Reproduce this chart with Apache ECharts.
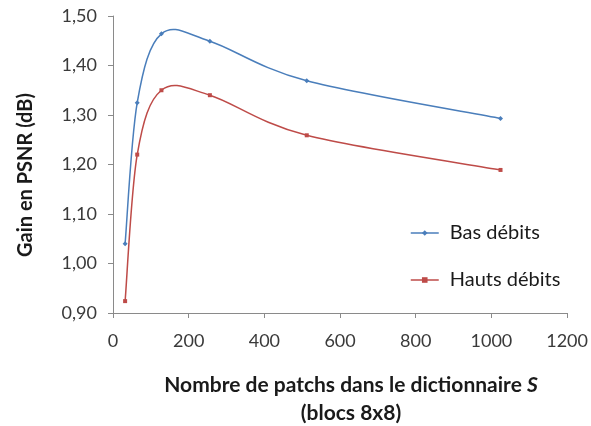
<!DOCTYPE html>
<html>
<head>
<meta charset="utf-8">
<script src="https://cdn.jsdelivr.net/npm/echarts@6/dist/echarts.min.js"></script>
<style>
  html, body { margin: 0; padding: 0; background: #fff; }
  #chart { width: 591px; height: 426px; }
</style>
</head>
<body>
<div id="chart"></div>
<script>
// Dictionary sizes (number of 8x8 patches)
var patchCounts = [32, 64, 128, 256, 512, 1024];
// PSNR gain (dB) at low and high bit rates
var basDebits = [1.04, 1.325, 1.464, 1.449, 1.369, 1.293];
var hautsDebits = [0.924, 1.22, 1.35, 1.34, 1.259, 1.189];
var seriesNames = ['Bas débits', 'Hauts débits'];
var seriesColors = ['#4a7ebb', '#be4b48'];

var FONT = 'Lato, "Open Sans", sans-serif';
var TEXT = '#3a3a3a';
var DARK = '#1a1a1a';
var AXIS = '#8a8a8a';

function pairs(xs, ys) {
  return xs.map(function (x, i) { return [x, ys[i]]; });
}

// Catmull-Rom style smoothed curve: each data item draws the bezier
// segment to the next point, using its neighbours for the tangents.
function curveSeries(ys, color) {
  return {
    type: 'custom',
    silent: true,
    z: 1,
    data: pairs(patchCounts, ys),
    renderItem: function (params, api) {
      var i = params.dataIndex;
      var n = patchCounts.length;
      if (i >= n - 1) return null;
      var p = function (k) {
        k = Math.max(0, Math.min(n - 1, k));
        return api.coord([patchCounts[k], ys[k]]);
      };
      var p0 = p(i - 1), p1 = p(i), p2 = p(i + 1), p3 = p(i + 2);
      return {
        type: 'bezierCurve',
        shape: {
          x1: p1[0], y1: p1[1],
          x2: p2[0], y2: p2[1],
          cpx1: p1[0] + (p2[0] - p0[0]) / 6,
          cpy1: p1[1] + (p2[1] - p0[1]) / 6,
          cpx2: p2[0] - (p3[0] - p1[0]) / 6,
          cpy2: p2[1] - (p3[1] - p1[1]) / 6
        },
        style: { stroke: color, lineWidth: 1.5, fill: null }
      };
    }
  };
}

function markerSeries(idx, ys, symbol, size) {
  return {
    name: seriesNames[idx],
    type: 'line',
    z: 2,
    data: pairs(patchCounts, ys),
    symbol: symbol,
    symbolSize: size,
    lineStyle: { color: seriesColors[idx], width: 1.5, opacity: 0 },
    itemStyle: { color: seriesColors[idx] }
  };
}

var chart = echarts.init(document.getElementById('chart'), null, { renderer: 'canvas' });
chart.setOption({
  backgroundColor: '#ffffff',
  animation: false,
  textStyle: { fontFamily: FONT },
  grid: { left: 113, right: 20, top: 16, bottom: 113 },
  xAxis: {
    type: 'value',
    min: 0, max: 1200, interval: 200,
    axisLine: { lineStyle: { color: AXIS, width: 1 } },
    axisTick: { show: true, length: 5, lineStyle: { color: AXIS } },
    axisLabel: {
      color: TEXT, fontSize: 18, margin: 19, fontFamily: FONT,
      formatter: function (v) { return String(v); }
    },
    splitLine: { show: false }
  },
  yAxis: {
    type: 'value',
    min: 0.9, max: 1.5, interval: 0.1,
    axisLine: { show: true, lineStyle: { color: AXIS, width: 1 } },
    axisTick: { show: true, length: 5, lineStyle: { color: AXIS } },
    axisLabel: {
      color: TEXT, fontSize: 18, margin: 16, fontFamily: FONT,
      formatter: function (v) { return v.toFixed(2).replace('.', ','); }
    },
    splitLine: { show: false }
  },
  legend: {
    orient: 'vertical',
    left: 405, top: 218,
    itemGap: 27,
    itemWidth: 28, itemHeight: 7,
    lineStyle: { opacity: 1, width: 1.5 },
    textStyle: { color: DARK, fontSize: 20, fontFamily: FONT, padding: [0, 0, 0, 6] },
    data: seriesNames
  },
  graphic: [
    {
      type: 'text',
      x: 26, y: 175,
      rotation: Math.PI / 2,
      style: {
        text: 'Gain en PSNR (dB)',
        fill: DARK,
        font: 'bold 20px ' + FONT,
        textAlign: 'center',
        textVerticalAlign: 'middle'
      }
    },
    {
      type: 'text',
      x: 351, y: 385,
      style: {
        text: '{a|Nombre de patchs dans le dictionnaire }{b|S}',
        rich: {
          a: { fill: DARK, fontSize: 21, fontWeight: 'bold', fontFamily: FONT },
          b: { fill: DARK, fontSize: 21, fontWeight: 'bold', fontStyle: 'italic', fontFamily: FONT }
        },
        textAlign: 'center',
        textVerticalAlign: 'middle'
      }
    },
    {
      type: 'text',
      x: 351, y: 413,
      style: {
        text: '(blocs 8x8)',
        fill: DARK,
        font: 'bold 21px ' + FONT,
        textAlign: 'center',
        textVerticalAlign: 'middle'
      }
    }
  ],
  series: [
    markerSeries(0, basDebits, 'diamond', 5),
    markerSeries(1, hautsDebits, 'rect', 4),
    curveSeries(basDebits, seriesColors[0]),
    curveSeries(hautsDebits, seriesColors[1])
  ]
});
</script>
</body>
</html>
